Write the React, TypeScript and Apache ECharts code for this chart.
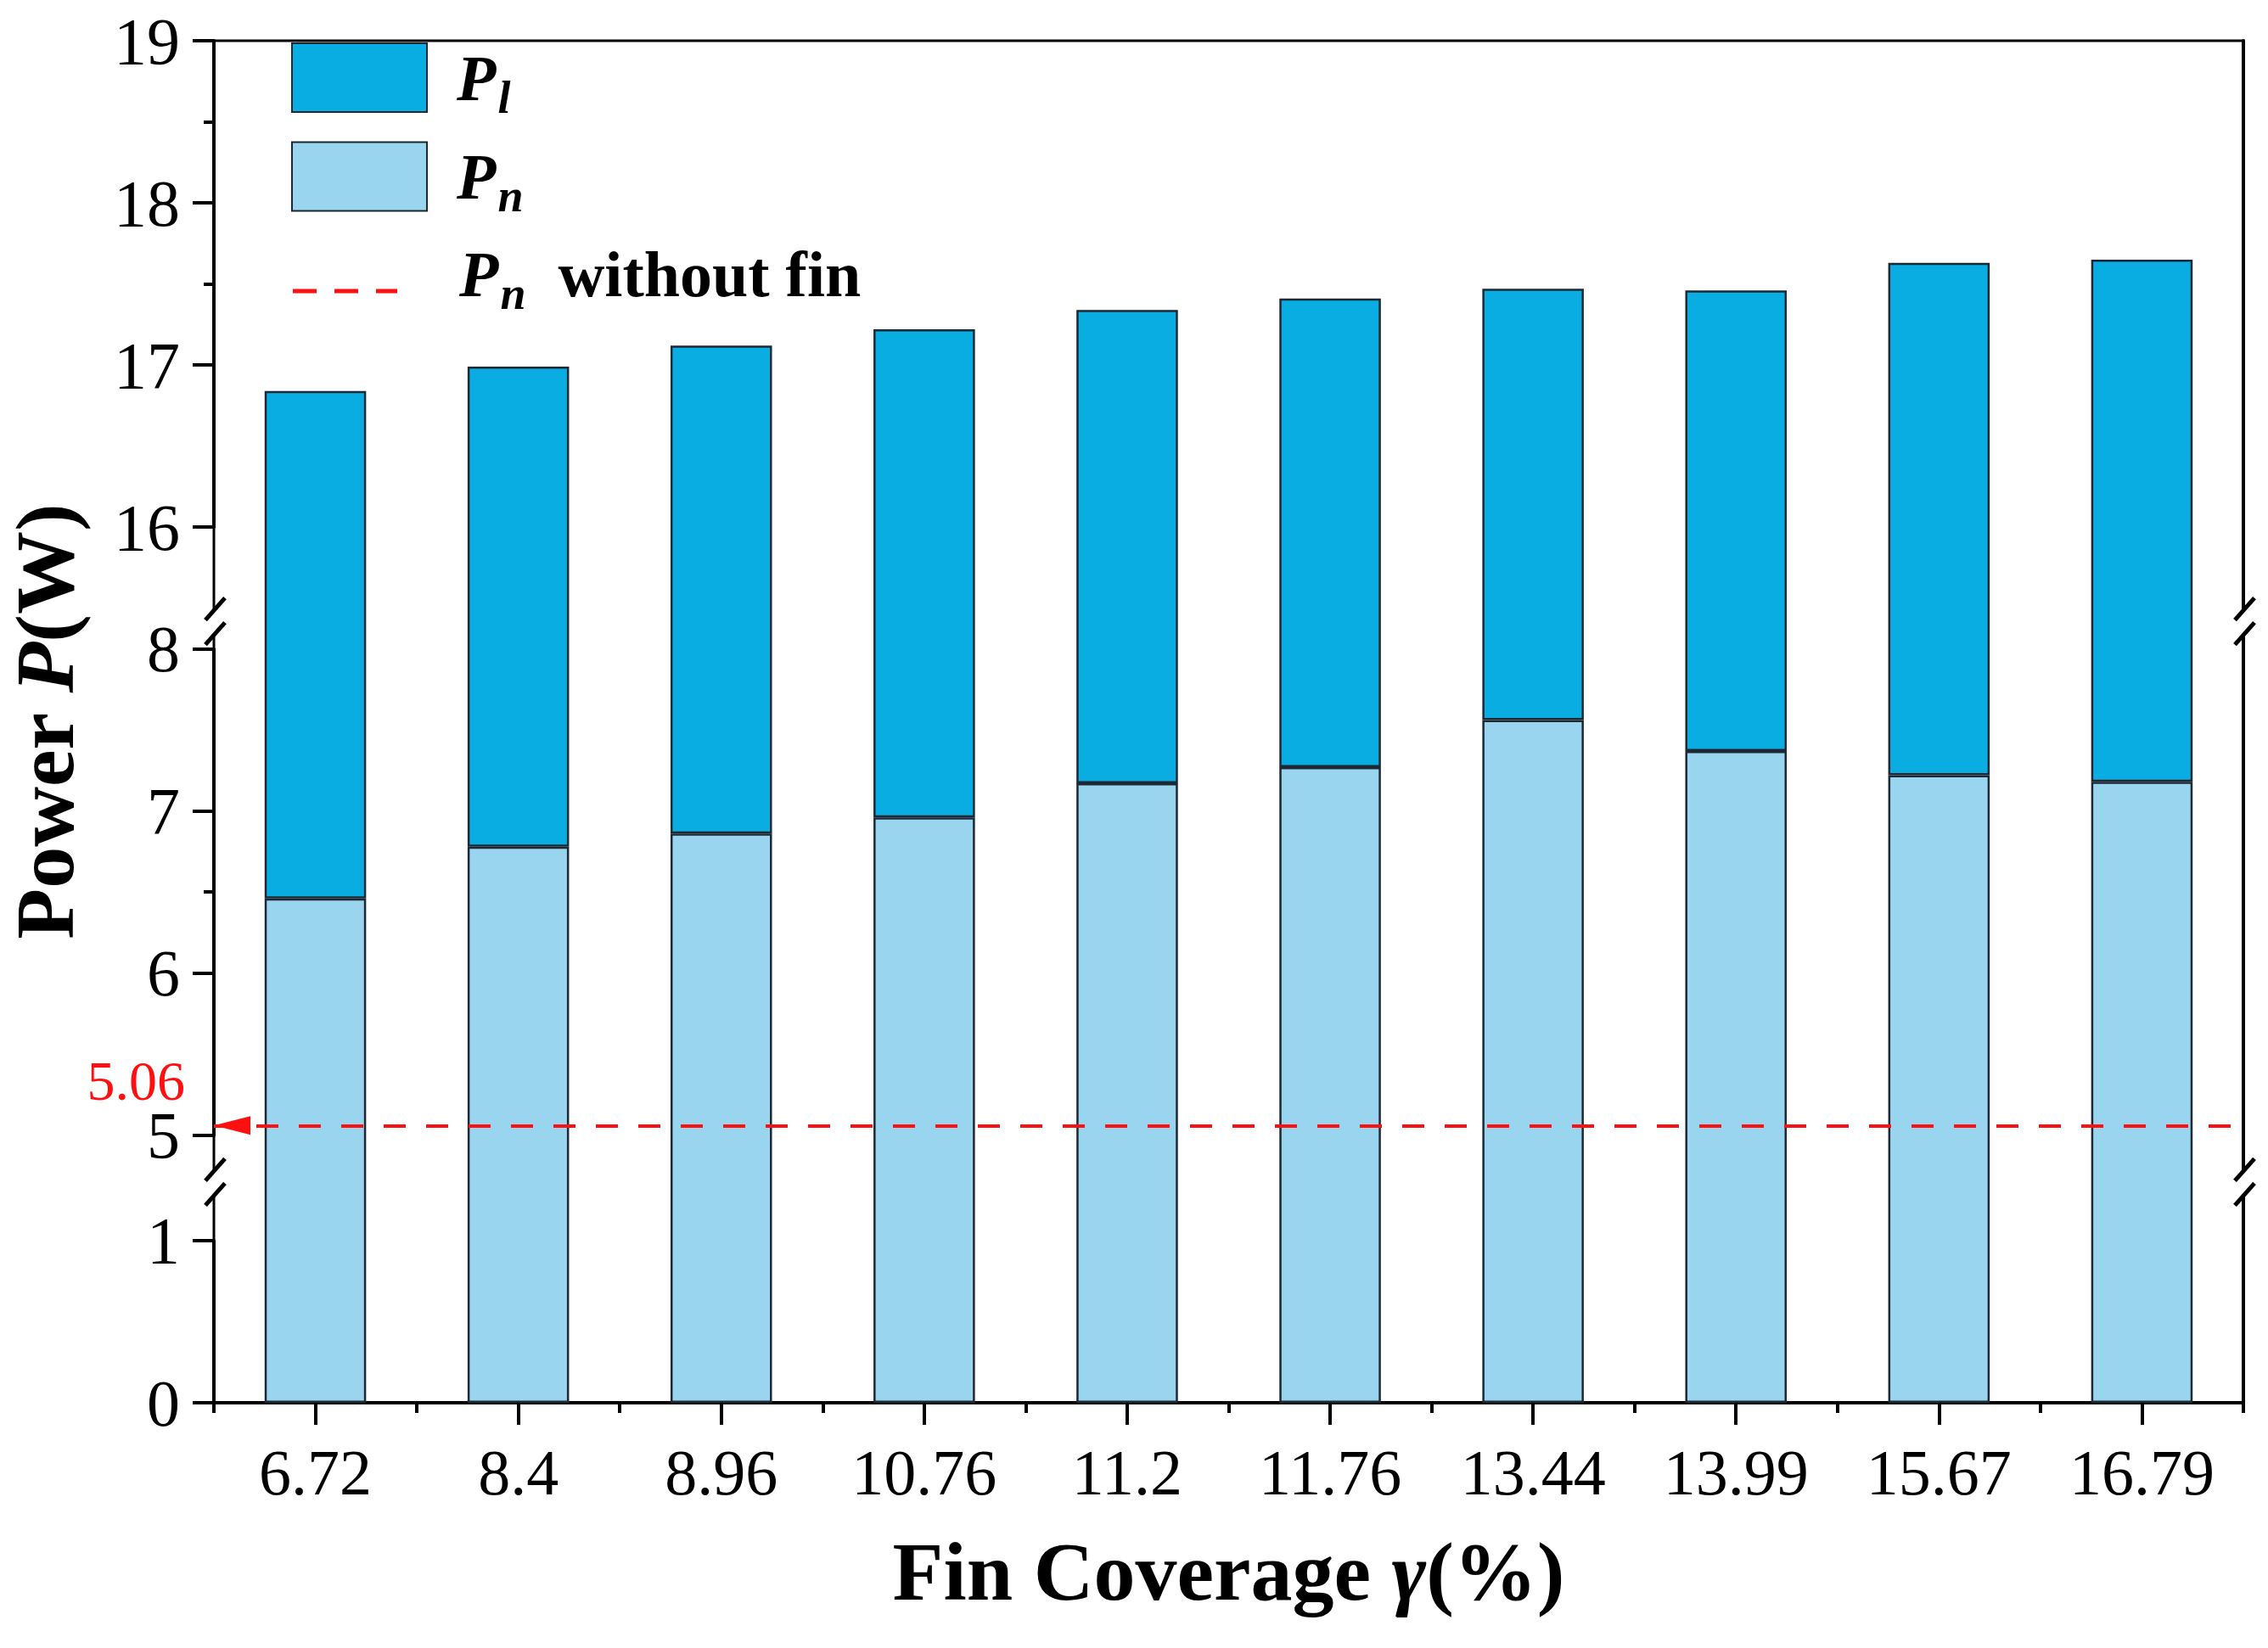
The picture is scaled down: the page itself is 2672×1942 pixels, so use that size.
import React, { useEffect, useRef } from 'react';
import * as echarts from 'echarts';

const categories = ['6.72', '8.4', '8.96', '10.76', '11.2', '11.76', '13.44', '13.99', '15.67', '16.79'];
const pnValues = [6.46, 6.78, 6.86, 6.96, 7.17, 7.27, 7.56, 7.37, 7.22, 7.18];
const plValues = [10.38, 10.21, 10.26, 10.26, 10.17, 10.14, 9.91, 10.09, 10.41, 10.47];
const pnWithoutFin = 5.06;
const yMin = 0;
const yMax = 19;
const yBreaks = [
  { start: 1, end: 5, gap: 0.65 },
  { start: 8, end: 16, gap: 0.75 },
];

const W = 2672;
const H = 1942;
const GRID = { left: 252, right: 29, top: 48, bottom: 289 };
const SERIF = '"Liberation Serif", "Times New Roman", serif';
const DARK = '#0AADE2';
const LIGHT = '#9AD5F0';
const EDGE = '#1c2833';
const RED = '#FF1010';

const legendRich = {
  p: { fontFamily: SERIF, fontSize: 76, fontWeight: 'bold', fontStyle: 'italic', color: '#000', lineHeight: 76, verticalAlign: 'top', padding: [0, 0, 0, 30] },
  s: { fontFamily: SERIF, fontSize: 54, fontWeight: 'bold', fontStyle: 'italic', color: '#000', lineHeight: 54, verticalAlign: 'top', padding: [34, 0, 0, 2] },
  t: { fontFamily: SERIF, fontSize: 76, fontWeight: 'bold', color: '#000', lineHeight: 76, verticalAlign: 'top', padding: [0, 0, 0, 0] },
};

function legendLabel(name: string): string {
  if (name === 'Pl') return '{p|P}{s|l}';
  if (name === 'Pn') return '{p|P}{s|n}';
  return '{p|P}{s|n}{t|  without fin}';
}

// dashed-line legend icon (dashes sit at the bottom of a 123x45 box)
const DASH_ICON = 'path://M0,0 M0,40 h28 v5 h-28 Z M49,40 h28 v5 h-28 Z M98,40 h25 v5 h-25 Z';
// triangle whose tip is at the symbol centre
const ARROW = 'path://M11,-43 M11,0 L22,43 L0,43 Z';

export default function App() {
  const ref = useRef<HTMLDivElement>(null);
  useEffect(() => {
    if (!ref.current) return;
    const chart = echarts.init(ref.current, null, { renderer: 'svg', width: W, height: H });
    const option: any = {
      animation: false,
      backgroundColor: '#ffffff',
      grid: {
        left: GRID.left, right: GRID.right, top: GRID.top, bottom: GRID.bottom,
        show: true, borderColor: '#000', borderWidth: 3, backgroundColor: 'transparent',
        outerBoundsMode: 'none',
      },
      legend: [
        {
          data: ['Pl', 'Pn'],
          orient: 'vertical',
          left: 338, top: 45,
          icon: 'rect',
          itemWidth: 159, itemHeight: 81, itemGap: 25,
          selectedMode: false,
          formatter: legendLabel,
          textStyle: { rich: legendRich },
        },
        {
          data: [{ name: 'Pn without fin', icon: DASH_ICON }],
          orient: 'vertical',
          left: 340, top: 280,
          itemWidth: 123, itemHeight: 45, itemGap: 0,
          symbolKeepAspect: false,
          selectedMode: false,
          formatter: legendLabel,
          textStyle: { rich: { ...legendRich, p: { ...legendRich.p, padding: [0, 0, 0, 68] } } },
        },
      ],
      xAxis: [
        {
          type: 'category',
          data: categories,
          position: 'bottom',
          name: 'Fin Coverage {i|γ}(%)',
          nameLocation: 'middle',
          nameGap: 150,
          nameTextStyle: {
            fontFamily: SERIF, fontSize: 98, fontWeight: 'bold', color: '#000',
            rich: { i: { fontFamily: SERIF, fontSize: 98, fontWeight: 'bold', fontStyle: 'italic', color: '#000' } },
          },
          axisLine: { show: true, lineStyle: { color: '#000', width: 4 } },
          axisTick: { show: true, alignWithLabel: true, length: 26, lineStyle: { color: '#000', width: 4 } },
          axisLabel: { fontFamily: SERIF, fontSize: 76, color: '#000', margin: 44 },
          splitLine: { show: false },
        },
        {
          type: 'category',
          data: categories,
          position: 'bottom',
          axisLine: { show: false },
          axisTick: { show: true, length: 12, lineStyle: { color: '#000', width: 4 } },
          axisLabel: { show: false },
          splitLine: { show: false },
        },
      ],
      yAxis: [
        {
          type: 'value',
          min: yMin, max: yMax, interval: 1,
          breaks: yBreaks,
          breakArea: { show: false, itemStyle: { opacity: 0 } },
          name: 'Power {i|P}(W)',
          nameLocation: 'middle',
          nameRotate: 90,
          nameGap: 150,
          nameTextStyle: {
            fontFamily: SERIF, fontSize: 98, fontWeight: 'bold', color: '#000',
            rich: { i: { fontFamily: SERIF, fontSize: 98, fontWeight: 'bold', fontStyle: 'italic', color: '#000' } },
          },
          axisLine: { show: true, lineStyle: { color: '#000', width: 4 } },
          axisTick: { show: true, length: 25, lineStyle: { color: '#000', width: 4 } },
          minorTick: { show: true, splitNumber: 2, length: 12, lineStyle: { color: '#000', width: 4 } },
          axisLabel: { fontFamily: SERIF, fontSize: 78, color: '#000', margin: 40 },
          splitLine: { show: false },
          minorSplitLine: { show: false },
        },
        {
          type: 'value',
          min: yMin, max: yMax,
          position: 'right',
          axisLine: { show: true, lineStyle: { color: '#000', width: 4 } },
          axisTick: { show: false },
          axisLabel: { show: false },
          splitLine: { show: false },
        },
      ],
      series: [
        {
          name: 'Pn',
          type: 'bar',
          stack: 'power',
          barWidth: '50%',
          data: pnValues,
          itemStyle: { color: LIGHT, borderColor: EDGE, borderWidth: 2.5 },
          markLine: {
            silent: true,
            symbol: [ARROW, 'none'],
            symbolSize: [22, 86],
            lineStyle: { color: RED, width: 4, type: [26, 24] },
            itemStyle: { color: RED },
            label: { show: false },
            data: [{ yAxis: pnWithoutFin }],
          },
        },
        {
          name: 'Pl',
          type: 'bar',
          stack: 'power',
          barWidth: '50%',
          data: plValues,
          itemStyle: { color: DARK, borderColor: EDGE, borderWidth: 2.5 },
        },
        {
          name: 'Pn without fin',
          type: 'line',
          data: [],
          symbol: 'none',
          itemStyle: { color: RED },
          lineStyle: { color: RED, width: 5, type: [28, 21] },
        },
      ],
    };
    chart.setOption(option);

    // break marks on the left and right axes, and the 5.06 label
    const y1 = chart.convertToPixel({ yAxisIndex: 0 }, 1) as number;
    const y5 = chart.convertToPixel({ yAxisIndex: 0 }, 5) as number;
    const y8 = chart.convertToPixel({ yAxisIndex: 0 }, 8) as number;
    const y16 = chart.convertToPixel({ yAxisIndex: 0 }, 16) as number;
    const yRef = chart.convertToPixel({ yAxisIndex: 0 }, pnWithoutFin) as number;
    const centers = [y5 + 0.44 * (y1 - y5), y8 - 0.23 * (y8 - y16)];
    const xs = [GRID.left, W - GRID.right];
    const graphics: any[] = [];
    xs.forEach((x) => {
      centers.forEach((yc) => {
        graphics.push({ type: 'rect', z: 100, shape: { x: x - 6, y: yc - 12, width: 12, height: 29 }, style: { fill: '#fff' } });
        graphics.push({ type: 'line', z: 101, shape: { x1: x - 10, y1: yc - 1, x2: x + 13, y2: yc - 27 }, style: { stroke: '#000', lineWidth: 5 } });
        graphics.push({ type: 'line', z: 101, shape: { x1: x - 10, y1: yc + 28, x2: x + 13, y2: yc + 2 }, style: { stroke: '#000', lineWidth: 5 } });
      });
    });
    graphics.push({
      type: 'text', z: 101,
      x: GRID.left - 34, y: yRef - 53,
      style: {
        text: pnWithoutFin.toFixed(2),
        fill: RED, fontFamily: SERIF, fontSize: 66, lineHeight: 50,
        textAlign: 'right', textVerticalAlign: 'middle',
      },
    });
    chart.setOption({ graphic: graphics });

    return () => chart.dispose();
  }, []);
  return <div ref={ref} style={{ position: 'fixed', left: 0, top: 0, width: W, height: H, background: '#fff' }} />;
}
